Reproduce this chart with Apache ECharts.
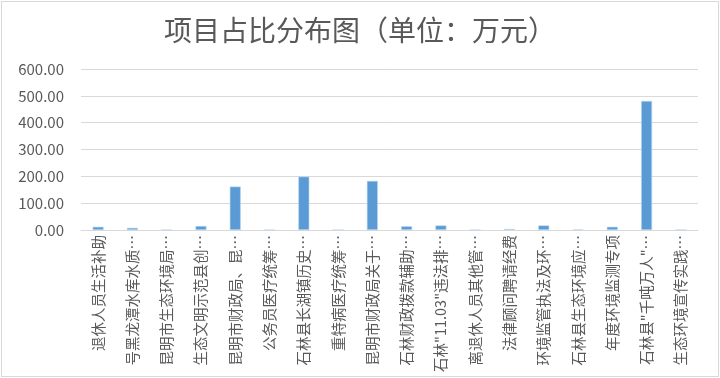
<!DOCTYPE html>
<html>
<head>
<meta charset="utf-8">
<script src="https://cdn.jsdelivr.net/npm/echarts@6/dist/echarts.min.js"></script>
<style>
  html, body { margin: 0; padding: 0; background: #fff; }
  #chart { position: absolute; left: 1px; top: 1px; width: 716px; height: 374px; border: 1px solid #d9d9d9; }
</style>
</head>
<body>
<div id="chart"></div>
<script>
const categories = [
  '退休人员生活补助', '号黑龙潭水库水质…', '昆明市生态环境局…', '生态文明示范县创…',
  '昆明市财政局、昆…', '公务员医疗统筹…', '石林县长湖镇历史…', '重特病医疗统筹…',
  '昆明市财政局关于…', '石林财政拨款辅助…', '石林"11.03"违法排…', '离退休人员其他管…',
  '法律顾问聘请经费', '环境监管执法及环…', '石林县生态环境应…', '年度环境监测专项',
  '石林县"千吨万人"…', '生态环境宣传实践…'
]
const amounts = [12, 8, 0.5, 15, 162, 0.5, 199, 0.5, 183, 14, 17, 0.5, 4, 17, 2, 12, 481, 1]
const yTicks = { min: 0, max: 600, interval: 100 }

const chartDom = document.getElementById('chart')
const myChart = echarts.init(chartDom)

const option = {
  animation: false,
  title: {
    text: '项目占比分布图（单位：万元）',
    left: 'center',
    top: 9,
    textStyle: { fontFamily: 'Noto Sans CJK SC', fontSize: 28, fontWeight: 'normal', color: '#595959' },
  },
  grid: { left: 79, right: 20, top: 67, bottom: 146, outerBoundsMode: 'none', containLabel: false },
  xAxis: {
    type: 'category',
    data: categories,
    axisLine: { lineStyle: { color: '#d9d9d9' } },
    axisTick: { show: false },
    axisLabel: {
      rotate: 90,
      interval: 0,
      margin: 5,
      fontFamily: 'Noto Sans CJK SC',
      fontSize: 14.5,
      color: '#595959',
    },
  },
  yAxis: {
    type: 'value',
    min: yTicks.min,
    max: yTicks.max,
    interval: yTicks.interval,
    axisLine: { show: false },
    axisTick: { show: false },
    splitLine: { lineStyle: { color: '#d9d9d9' } },
    axisLabel: {
      margin: 17,
      fontFamily: 'Noto Sans CJK SC',
      fontSize: 15,
      color: '#595959',
      formatter: v => v.toFixed(2),
    },
  },
  series: [
    {
      type: 'bar',
      data: amounts,
      barWidth: 11,
      itemStyle: { color: '#5b9bd5', borderColor: '#bdd7ee', borderWidth: 0.6 },
    },
  ],
}

myChart.setOption(option)
</script>
</body>
</html>
